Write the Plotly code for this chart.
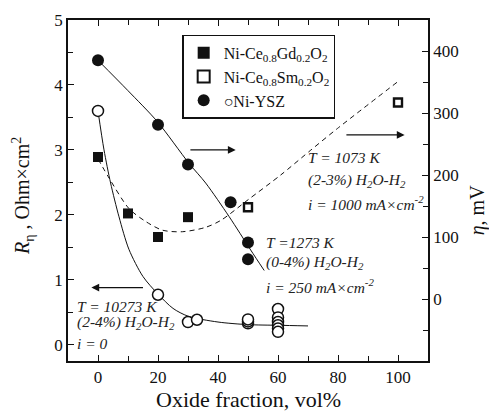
import plotly.graph_objects as go

# Ni-Ce0.8Gd0.2O2 overpotential (mV, right axis)
gd_x = [0, 10, 20, 30]
gd_eta = [229, 138, 100, 132]

# Ni-Ce0.8Sm0.2O2 overpotential (mV, right axis)
sm_x = [50, 100]
sm_eta = [148, 317]

# Ni-YSZ overpotential (mV, right axis), 1273 K
ysz_x = [0, 20, 30, 44.2, 50, 50]
ysz_eta = [385, 281, 217, 156, 91, 64]

# Ni-YSZ polarization resistance (Ohm*cm2, left axis), i = 0
yszr_x = [0, 20, 30, 33, 50, 50, 50, 60, 60, 60, 60, 60, 60]
yszr_r = [3.6, 0.77, 0.35, 0.385, 0.33, 0.36, 0.39, 0.55, 0.42, 0.35, 0.30, 0.25, 0.20]

# guide curves
fit_r_x = [0, 2, 4.2, 7, 10.3, 15, 20, 25, 30, 40, 50, 60, 70]
fit_r_y = [3.6, 3.0, 2.49, 1.97, 1.47, 1.05, 0.78, 0.56, 0.44, 0.35, 0.31, 0.30, 0.29]

fit_ysz_x = [0, 10, 19.8, 30.3, 35.9, 43.7, 50.9, 55.4]
fit_ysz_y = [385, 336, 286, 219, 187, 133, 79, 46]

fit_ce_x = [0, 3.7, 10.3, 15.9, 21.5, 28.1, 35.9, 41, 50, 60.9, 70.9, 79.8, 99.8]
fit_ce_y = [226, 195, 146, 125, 111, 108.5, 115.6, 127, 160, 200, 240, 275, 350]

x_ticks = [0, 20, 40, 60, 80, 100]
r_ticks = [0, 1, 2, 3, 4, 5]
eta_ticks = [0, 100, 200, 300, 400]

FONT = "Liberation Serif, Tinos, Times New Roman, DejaVu Serif, serif"
INK = "#111"

fig = go.Figure()

fig.add_trace(go.Scatter(x=fit_r_x, y=fit_r_y, mode="lines", yaxis="y",
                         line=dict(color=INK, width=1, shape="spline", smoothing=0.8),
                         showlegend=False, hoverinfo="skip"))
fig.add_trace(go.Scatter(x=fit_ysz_x, y=fit_ysz_y, mode="lines", yaxis="y2",
                         line=dict(color=INK, width=1, shape="spline", smoothing=0.8),
                         showlegend=False, hoverinfo="skip"))
fig.add_trace(go.Scatter(x=fit_ce_x, y=fit_ce_y, mode="lines", yaxis="y2",
                         line=dict(color=INK, width=1, dash="5px,4px", shape="spline", smoothing=0.8),
                         showlegend=False, hoverinfo="skip"))

fig.add_trace(go.Scatter(x=yszr_x, y=yszr_r, mode="markers", yaxis="y",
                         marker=dict(symbol="circle", size=11, color="white",
                                     line=dict(color=INK, width=1.5)),
                         showlegend=False))
fig.add_trace(go.Scatter(x=gd_x, y=gd_eta, mode="markers", yaxis="y2",
                         name="Ni-Ce<sub>0.8</sub>Gd<sub>0.2</sub>O<sub>2</sub>", legendrank=1,
                         marker=dict(symbol="square", size=10, color=INK, line=dict(width=0))))
fig.add_trace(go.Scatter(x=sm_x, y=sm_eta, mode="markers", yaxis="y2",
                         name="Ni-Ce<sub>0.8</sub>Sm<sub>0.2</sub>O<sub>2</sub>", legendrank=2,
                         marker=dict(symbol="square", size=8, color="white",
                                     line=dict(color=INK, width=2.4))))
fig.add_trace(go.Scatter(x=ysz_x, y=ysz_eta, mode="markers", yaxis="y2",
                         name="○Ni-YSZ", legendrank=3,
                         marker=dict(symbol="circle", size=12, color=INK, line=dict(width=0))))

axis_common = dict(showline=True, linecolor=INK, linewidth=1.5, ticks="inside",
                   tickcolor=INK, tickwidth=1.2, ticklen=6, showgrid=False, zeroline=False,
                   tickfont=dict(family=FONT, size=17, color=INK))

fig.update_layout(
    width=489, height=417,
    margin=dict(l=68, r=61, t=20, b=56),
    paper_bgcolor="white", plot_bgcolor="white",
    font=dict(family=FONT, color=INK),
    xaxis=dict(range=[-10, 110], tickvals=x_ticks, mirror="ticks",
               minor=dict(dtick=10, tick0=0, ticks="inside", ticklen=5, tickcolor=INK, tickwidth=1.2),
               **axis_common),
    yaxis=dict(range=[-0.25, 5], tickvals=r_ticks,
               minor=dict(dtick=0.5, tick0=0, ticks="inside", ticklen=5, tickcolor=INK, tickwidth=1.2),
               **axis_common),
    yaxis2=dict(range=[-100, 450], tickvals=eta_ticks, overlaying="y", side="right",
                minor=dict(dtick=50, tick0=0, ticks="inside", ticklen=5, tickcolor=INK, tickwidth=1.2),
                **axis_common),
    legend=dict(x=0.318, y=0.957, xanchor="left", yanchor="top",
                bordercolor=INK, borderwidth=1.2, bgcolor="white",
                font=dict(family=FONT, size=16, color=INK),
                itemsizing="constant", tracegroupgap=0),
)

# axis titles
fig.add_annotation(text="Oxide fraction, vol%", xref="paper", yref="paper",
                   x=0.5, y=-0.114, xanchor="center", yanchor="middle", showarrow=False,
                   font=dict(family=FONT, size=22, color=INK))
fig.add_annotation(text="<i>R</i><sub>η</sub> , Ohm×cm<sup>2</sup>", xref="paper", yref="paper",
                   x=-0.125, y=0.484, xanchor="center", yanchor="middle", showarrow=False,
                   textangle=-90, font=dict(family=FONT, size=20, color=INK))
fig.add_annotation(text="<i>η</i>, mV", xref="paper", yref="paper",
                   x=1.14, y=0.443, xanchor="center", yanchor="middle", showarrow=False,
                   textangle=-90, font=dict(family=FONT, size=20, color=INK))

# condition labels
labels = [
    (69.3, 2.877, "<i>T</i> = 1073 K"),
    (69.3, 2.523, "(2-3%) H<sub>2</sub>O-H<sub>2</sub>"),
    (69.3, 2.185, "<i>i</i> = 1000 mA×cm<sup>-2</sup>"),
    (55.3, 1.569, "<i>T</i> =1273 K"),
    (55.3, 1.262, "(0-4%) H<sub>2</sub>O-H<sub>2</sub>"),
    (55.3, 0.908, "<i>i</i> = 250 mA×cm<sup>-2</sup>"),
    (-7.7, 0.585, "<i>T</i> = 10273 K"),
    (-7.7, 0.338, "(2-4%) H<sub>2</sub>O-H<sub>2</sub>"),
    (-7.7, 0.015, "<i>i</i> = 0"),
]
for lx, ly, txt in labels:
    fig.add_annotation(text=f"<i>{txt}</i>", x=lx, y=ly, xref="x", yref="y",
                       xanchor="left", yanchor="middle", showarrow=False,
                       font=dict(family=FONT, size=15.5, color="#222"))

# arrows pointing to the relevant axis
arrows = [
    ((30.3, 3.0), (45.9, 3.0)),
    ((82.3, 3.23), (102.2, 3.23)),
    ((15.5, 0.88), (-2.2, 0.88)),
]
for (tx, ty), (hx, hy) in arrows:
    fig.add_annotation(x=hx, y=hy, ax=tx, ay=ty, xref="x", yref="y", axref="x", ayref="y",
                       text="", showarrow=True, arrowhead=2, arrowsize=1.3, arrowwidth=1.2,
                       arrowcolor=INK)

fig.write_html("out.html")
